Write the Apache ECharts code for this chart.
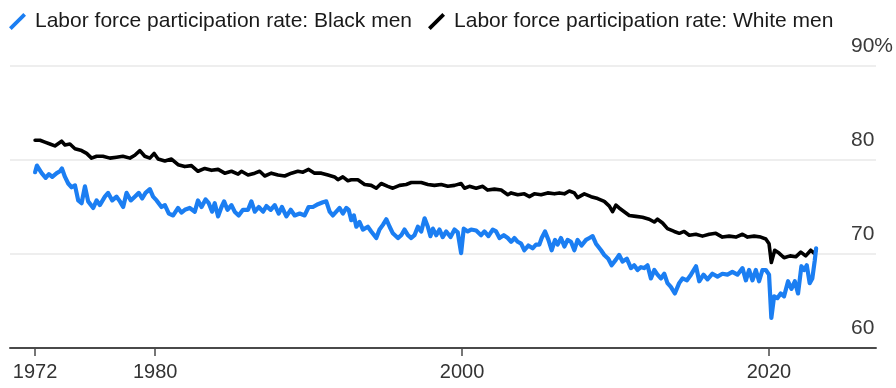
<!DOCTYPE html>
<html>
<head>
<meta charset="utf-8">
<script src="https://cdn.jsdelivr.net/npm/echarts@6/dist/echarts.min.js"></script>
<style>
  html, body { margin: 0; padding: 0; background: #ffffff; }
  #chart { width: 896px; height: 388px; }
</style>
</head>
<body>
<div id="chart"></div>
<script>
// Labor force participation rate, men, in percent (dates as decimal years)
const blackMenDates = [
  1972.17, 1972.29, 1972.60, 1972.86, 1973.07, 1973.29, 1973.58, 1973.79, 1973.92, 1974.12,
  1974.33, 1974.55, 1974.77, 1974.98, 1975.20, 1975.42, 1975.63, 1975.96, 1976.18, 1976.39,
  1976.72, 1976.93, 1977.20, 1977.48, 1977.70, 1977.91, 1978.13, 1978.41, 1978.67, 1978.93,
  1979.15, 1979.37, 1979.65, 1979.86, 1980.09, 1980.41, 1980.63, 1980.89, 1981.17, 1981.49,
  1981.71, 1981.93, 1982.25, 1982.58, 1982.79, 1983.02, 1983.28, 1983.49, 1983.71, 1983.88,
  1984.10, 1984.32, 1984.49, 1984.71, 1984.97, 1985.18, 1985.44, 1985.72, 1986.05, 1986.27,
  1986.49, 1986.75, 1987.03, 1987.25, 1987.53, 1987.79, 1988.05, 1988.26, 1988.55, 1988.83,
  1989.09, 1989.42, 1989.74, 1990.00, 1990.28, 1990.61, 1990.93, 1991.15, 1991.37, 1991.58,
  1991.80, 1992.02, 1992.23, 1992.46, 1992.61, 1992.78, 1992.95, 1993.11, 1993.32, 1993.54,
  1993.86, 1994.08, 1994.41, 1994.62, 1994.84, 1995.06, 1995.28, 1995.49, 1995.82, 1996.04,
  1996.25, 1996.47, 1996.69, 1996.90, 1997.12, 1997.34, 1997.56, 1997.77, 1997.94, 1998.10,
  1998.32, 1998.53, 1998.74, 1998.97, 1999.25, 1999.51, 1999.72, 1999.94, 2000.11, 2000.37,
  2000.59, 2000.92, 2001.24, 2001.46, 2001.72, 2002.00, 2002.22, 2002.44, 2002.72, 2002.98,
  2003.20, 2003.41, 2003.63, 2003.85, 2004.06, 2004.32, 2004.60, 2004.82, 2005.04, 2005.19,
  2005.41, 2005.63, 2005.84, 2006.06, 2006.23, 2006.45, 2006.67, 2006.88, 2007.10, 2007.32,
  2007.53, 2007.79, 2008.08, 2008.30, 2008.51, 2008.73, 2009.06, 2009.27, 2009.53, 2009.75,
  2010.03, 2010.24, 2010.46, 2010.74, 2011.01, 2011.22, 2011.44, 2011.66, 2011.87, 2012.09,
  2012.31, 2012.53, 2012.74, 2012.96, 2013.18, 2013.39, 2013.61, 2013.87, 2014.15, 2014.37,
  2014.66, 2014.92, 2015.25, 2015.46, 2015.74, 2016.00, 2016.32, 2016.65, 2016.97, 2017.30,
  2017.62, 2017.95, 2018.28, 2018.50, 2018.71, 2018.93, 2019.15, 2019.36, 2019.58, 2019.80,
  2020.01, 2020.16, 2020.34, 2020.55, 2020.77, 2020.99, 2021.25, 2021.47, 2021.69, 2021.90,
  2022.12, 2022.30, 2022.47, 2022.66, 2022.83, 2022.99, 2023.08
];
const blackMenRate = [
  78.7, 79.4, 78.6, 78.1, 78.5, 78.2, 78.6, 78.8, 79.1, 78.2,
  77.5, 77.1, 77.3, 75.7, 75.4, 77.2, 75.6, 74.9, 75.7, 75.2,
  76.1, 76.5, 75.7, 76.1, 75.6, 75.0, 76.5, 75.7, 76.1, 76.5,
  75.9, 76.5, 76.9, 76.1, 75.7, 75.0, 75.2, 74.3, 74.1, 74.9,
  74.4, 74.7, 74.9, 74.5, 75.7, 75.0, 75.8, 75.4, 74.5, 75.4,
  74.0, 75.0, 75.6, 74.7, 75.2, 74.5, 74.1, 74.7, 74.7, 75.6,
  74.5, 75.0, 74.5, 75.1, 74.7, 75.2, 74.3, 75.0, 74.0, 74.7,
  74.1, 74.3, 74.1, 75.0, 75.0, 75.3, 75.5, 75.6, 74.5, 74.1,
  74.5, 74.9, 74.3, 74.9, 74.7, 73.6, 74.1, 72.9, 73.4, 72.6,
  72.9, 72.4, 71.7, 72.6, 73.1, 73.7, 72.9, 72.2, 71.7, 72.0,
  72.6, 72.0, 71.7, 72.0, 72.9, 72.4, 73.8, 72.9, 71.9, 72.7,
  72.0, 72.6, 71.8, 72.4, 71.8, 72.6, 72.3, 70.1, 72.7, 72.4,
  72.6, 72.5, 72.0, 72.4, 71.9, 72.6, 72.4, 71.7, 72.0, 71.7,
  71.3, 71.7, 71.3, 71.1, 70.4, 70.9, 70.6, 71.0, 71.0, 71.7,
  72.4, 71.5, 70.4, 71.5, 71.0, 71.7, 70.8, 71.5, 71.3, 70.4,
  71.5, 70.9, 71.5, 71.7, 71.9, 71.1, 70.4, 69.9, 69.5, 68.8,
  69.4, 69.9, 69.2, 69.5, 68.5, 68.8, 68.3, 68.6, 68.5, 68.8,
  67.4, 68.3, 67.8, 67.4, 67.9, 66.9, 66.5, 65.8, 66.9, 67.4,
  67.2, 67.8, 68.7, 67.1, 67.8, 67.3, 67.9, 67.6, 67.9, 67.8,
  68.1, 67.8, 68.5, 67.2, 68.3, 67.2, 68.3, 67.1, 68.3, 68.3,
  67.8, 63.2, 65.5, 65.3, 65.8, 65.5, 67.1, 66.3, 67.1, 65.8,
  68.7, 68.3, 68.8, 66.9, 67.4, 69.3, 70.6
];

const whiteMenDates = [
  1972.17, 1972.49, 1972.81, 1973.14, 1973.46, 1973.90, 1974.12, 1974.44, 1974.77, 1975.20,
  1975.53, 1975.85, 1976.18, 1976.59, 1977.05, 1977.48, 1977.89, 1978.35, 1978.67, 1979.00,
  1979.32, 1979.65, 1979.93, 1980.19, 1980.63, 1981.06, 1981.49, 1981.93, 1982.36, 1982.79,
  1983.23, 1983.67, 1984.10, 1984.53, 1984.97, 1985.40, 1985.62, 1986.05, 1986.49, 1986.81,
  1987.14, 1987.57, 1988.00, 1988.44, 1988.88, 1989.30, 1989.63, 1990.00, 1990.39, 1990.83,
  1991.26, 1991.69, 1991.91, 1992.23, 1992.56, 1992.78, 1993.21, 1993.65, 1994.08, 1994.41,
  1994.73, 1995.16, 1995.49, 1995.93, 1996.36, 1996.69, 1997.34, 1997.77, 1998.20, 1998.64,
  1999.07, 1999.51, 1999.94, 2000.16, 2000.48, 2000.92, 2001.35, 2001.67, 2002.11, 2002.55,
  2002.98, 2003.20, 2003.63, 2004.06, 2004.39, 2004.71, 2005.15, 2005.58, 2006.02, 2006.34,
  2006.67, 2006.99, 2007.32, 2007.53, 2007.97, 2008.41, 2008.84, 2009.27, 2009.60, 2009.81,
  2010.03, 2010.24, 2010.57, 2010.90, 2011.33, 2011.76, 2012.20, 2012.53, 2012.74, 2013.07,
  2013.39, 2013.83, 2014.16, 2014.48, 2014.81, 2015.24, 2015.67, 2016.11, 2016.54, 2016.97,
  2017.41, 2017.85, 2018.28, 2018.61, 2019.04, 2019.47, 2019.80, 2020.01, 2020.16, 2020.38,
  2020.66, 2020.99, 2021.38, 2021.75, 2022.08, 2022.40, 2022.73, 2022.94, 2023.08
];
const whiteMenRate = [
  82.1, 82.1, 81.9, 81.7, 81.5, 82.0, 81.6, 81.7, 81.2, 81.0,
  80.7, 80.2, 80.4, 80.4, 80.2, 80.3, 80.4, 80.2, 80.5, 81.0,
  80.4, 80.2, 80.7, 80.1, 79.9, 80.1, 79.5, 79.3, 79.4, 78.8,
  79.1, 78.9, 79.0, 78.6, 78.8, 78.5, 78.8, 78.4, 78.6, 78.8,
  78.3, 78.6, 78.4, 78.3, 78.6, 78.8, 78.7, 79.0, 78.6, 78.6,
  78.4, 78.2, 77.9, 78.2, 77.8, 77.9, 77.9, 77.4, 77.3, 77.0,
  77.5, 77.2, 77.0, 77.3, 77.4, 77.6, 77.6, 77.4, 77.3, 77.4,
  77.2, 77.3, 77.5, 77.0, 77.2, 77.0, 77.2, 76.8, 76.9, 76.8,
  76.3, 76.5, 76.3, 76.4, 76.1, 76.4, 76.3, 76.5, 76.4, 76.5,
  76.4, 76.7, 76.5, 76.0, 76.4, 76.1, 75.9, 75.6, 75.1, 74.5,
  75.2, 74.9, 74.5, 74.1, 74.0, 73.9, 73.7, 73.4, 73.7, 73.3,
  72.7, 72.4, 72.2, 72.4, 72.0, 72.1, 71.9, 72.1, 72.2, 71.8,
  71.9, 71.8, 72.1, 71.8, 71.9, 71.8, 71.6, 71.1, 69.1, 70.4,
  70.1, 69.6, 69.8, 69.7, 70.2, 69.8, 70.4, 70.1, 70.4
];

// Labelled years on the time axis (the first one sits on the first observation)
const labelledYears = [blackMenDates[0], 1980, 2000, 2020];

const seriesNames = [
  'Labor force participation rate: Black men',
  'Labor force participation rate: White men'
];
const blackMenColor = '#1b7ef2';
const whiteMenColor = '#000000';

const slashIcon = 'path://M0.7,14.7 L14.7,0.7 L17.3,3.3 L3.3,17.3 Z';
const fontFamily = '"Liberation Sans", Arial, Helvetica, sans-serif';

const chart = echarts.init(document.getElementById('chart'), null, { renderer: 'canvas' });

chart.setOption({
  animation: false,
  backgroundColor: '#ffffff',
  textStyle: { fontFamily: fontFamily },
  legend: {
    left: 4,
    top: 6,
    padding: 5,
    itemWidth: 19,
    itemHeight: 17,
    itemGap: 16,
    selectedMode: false,
    itemStyle: { borderWidth: 0 },
    textStyle: { fontSize: 21, color: '#1a1a1a', fontFamily: fontFamily, padding: [0, 0, 0, 3] },
    data: [
      { name: seriesNames[0], icon: slashIcon },
      { name: seriesNames[1], icon: slashIcon }
    ]
  },
  grid: { left: 10, right: 19, top: 66, bottom: 40, containLabel: false },
  xAxis: {
    type: 'value',
    min: 1970.535,
    max: 2026.98,
    z: 5,
    splitLine: { show: false },
    axisLine: { show: true, onZero: false, lineStyle: { color: '#4a4a4a', width: 2 } },
    axisTick: { show: true, length: 8, customValues: labelledYears, lineStyle: { color: '#4a4a4a', width: 1.5 } },
    axisLabel: {
      customValues: labelledYears,
      margin: 14,
      fontSize: 20,
      color: '#333333',
      fontFamily: fontFamily,
      formatter: function (v) { return String(Math.floor(v)); }
    }
  },
  yAxis: {
    type: 'value',
    position: 'right',
    min: 60,
    max: 90,
    interval: 10,
    axisLine: { show: false },
    axisTick: { show: false },
    splitLine: { show: true, lineStyle: { color: '#e8e8e8', width: 1.5 } },
    axisLabel: {
      inside: true,
      margin: 25,
      align: 'left',
      verticalAlign: 'bottom',
      padding: [0, 0, 9, 0],
      fontSize: 21,
      color: '#3a3a3a',
      fontFamily: fontFamily,
      showMinLabel: true,
      showMaxLabel: true,
      formatter: function (v) { return v === 90 ? v + '%' : String(v); }
    }
  },
  series: [
    {
      name: seriesNames[1],
      type: 'line',
      showSymbol: false,
      symbol: 'none',
      color: whiteMenColor,
      lineStyle: { color: whiteMenColor, width: 3.6, join: 'round', cap: 'round' },
      data: whiteMenDates.map((d, i) => [d, whiteMenRate[i]])
    },
    {
      name: seriesNames[0],
      type: 'line',
      showSymbol: false,
      symbol: 'none',
      color: blackMenColor,
      lineStyle: { color: blackMenColor, width: 4.2, join: 'round', cap: 'round' },
      data: blackMenDates.map((d, i) => [d, blackMenRate[i]])
    }
  ]
});
</script>
</body>
</html>
